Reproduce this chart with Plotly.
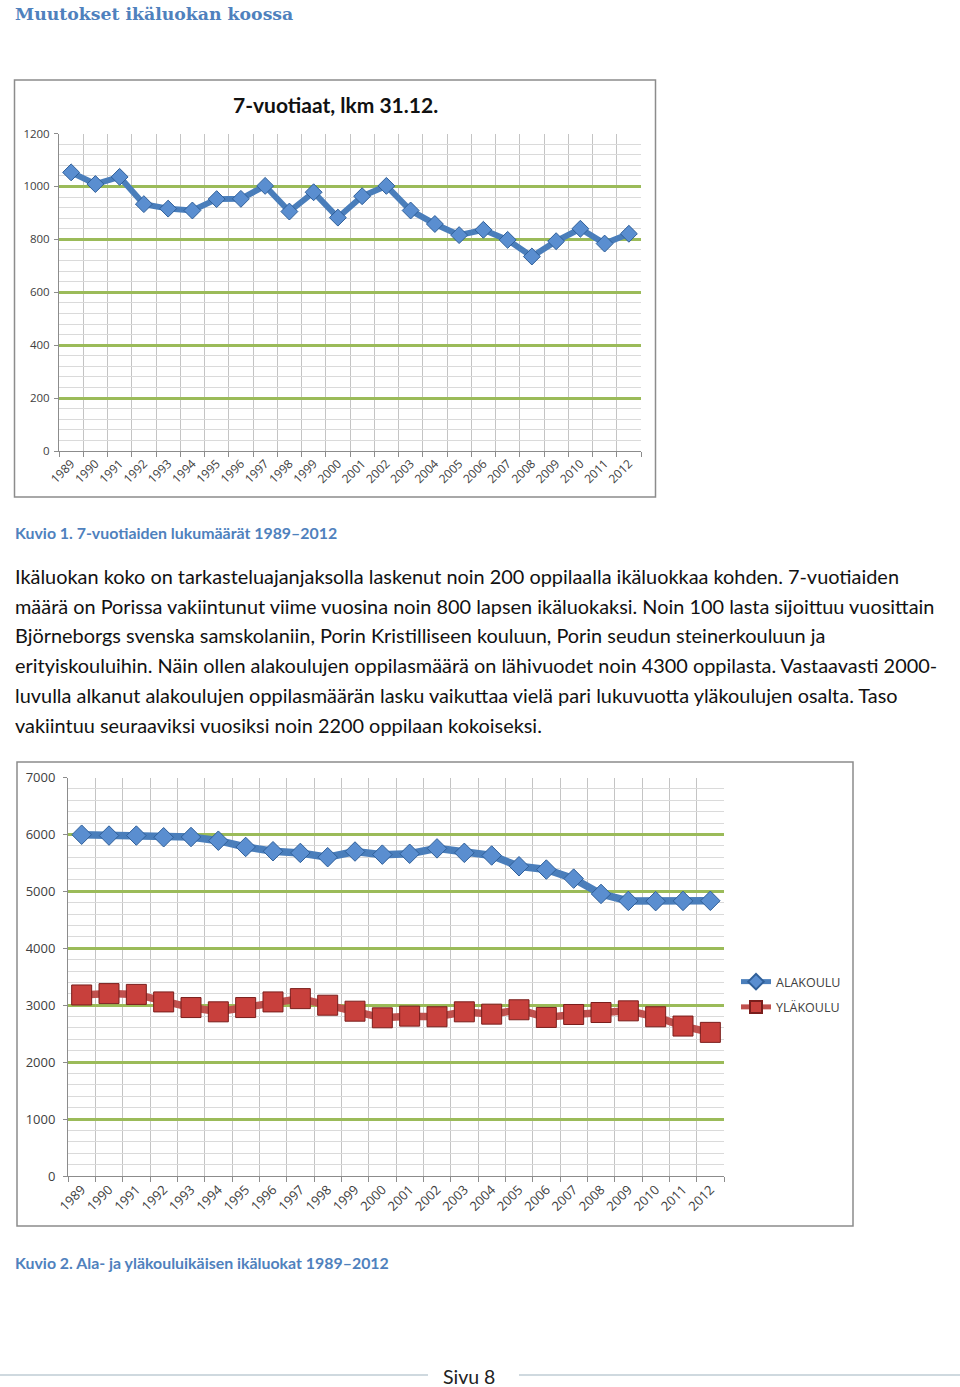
import plotly.graph_objects as go

W, H = 960, 1387

# ---------------- data ----------------
years = list(range(1989, 2013))
seven_year_olds = [1053, 1009, 1036, 933, 916, 909, 952, 953, 1002, 905, 978, 882,
                   963, 1002, 909, 858, 816, 836, 798, 735, 793, 840, 784, 821]
alakoulu = [5995, 5980, 5980, 5950, 5955, 5890, 5780, 5705, 5675, 5600, 5700, 5645,
            5660, 5755, 5677, 5630, 5441, 5383, 5224, 4955, 4832, 4828, 4832, 4834]
ylakoulu = [3180, 3204, 3190, 3058, 2959, 2884, 2959, 3058, 3116, 3000, 2895, 2779,
            2808, 2797, 2884, 2843, 2920, 2785, 2837, 2872, 2901, 2797, 2634, 2523]

chart1_title = "7-vuotiaat, lkm 31.12."
page_title = "Muutokset ikäluokan koossa"
caption1 = "Kuvio 1. 7-vuotiaiden lukumäärät 1989–2012"
caption2 = "Kuvio 2. Ala- ja yläkouluikäisen ikäluokat 1989–2012"
body_lines = [
    "Ikäluokan koko on tarkasteluajanjaksolla laskenut noin 200 oppilaalla ikäluokkaa kohden. 7-vuotiaiden",
    "määrä on Porissa vakiintunut viime vuosina noin 800 lapsen ikäluokaksi. Noin 100 lasta sijoittuu vuosittain",
    "Björneborgs svenska samskolaniin, Porin Kristilliseen kouluun, Porin seudun steinerkouluun ja",
    "erityiskouluihin. Näin ollen alakoulujen oppilasmäärä on lähivuodet noin 4300 oppilasta. Vastaavasti 2000-",
    "luvulla alkanut alakoulujen oppilasmäärän lasku vaikuttaa vielä pari lukuvuotta yläkoulujen osalta. Taso",
    "vakiintuu seuraaviksi vuosiksi noin 2200 oppilaan kokoiseksi.",
]
footer = "Sivu 8"

# ---------------- helpers ----------------
def px(x):
    return x / W

def py(y):
    return 1 - y / H

RED = "#C0504D"
GREEN = "#9BBB59"
TXT = "#404040"

fig = go.Figure()

fig.add_trace(go.Scatter(
    x=years, y=seven_year_olds, mode="lines+markers", xaxis="x", yaxis="y",
    line=dict(color="#4A7EBB", width=6),
    marker=dict(symbol="diamond", size=13, color="#5A8ED0", line=dict(color="#2F5F99", width=1)),
    showlegend=False, hoverinfo="x+y"))

fig.add_trace(go.Scatter(
    x=years, y=alakoulu, mode="lines+markers", xaxis="x2", yaxis="y2", name="ALAKOULU",
    legendgroup="a",
    line=dict(color="#4A7EBB", width=7.5),
    marker=dict(symbol="diamond", size=15, color="#5A8ED0", line=dict(color="#2F5F99", width=1))))

fig.add_trace(go.Scatter(
    x=years, y=ylakoulu, mode="lines+markers", xaxis="x2", yaxis="y2", name="YLÄKOULU",
    legendgroup="b",
    line=dict(color=RED, width=7.5),
    marker=dict(symbol="square", size=20, color="#C8403C", line=dict(color="#7A1E1C", width=1))))

def xaxis_cfg(domain, anchor, fsize):
    return dict(
        domain=domain, anchor=anchor, range=[years[0] - 0.5, years[-1] + 0.5],
        tickmode="array", tickvals=years, ticktext=[str(y) for y in years],
        tickangle=-45, tickfont=dict(family="Open Sans", size=fsize, color=TXT),
        showgrid=False, zeroline=False, showline=True, linecolor="#8C8C8C", linewidth=1,
        ticks="", automargin=False,
        minor=dict(tick0=years[0] - 0.5, dtick=1, showgrid=True, gridcolor="#C4C4C4",
                   gridwidth=1, ticks="outside", ticklen=5, tickcolor="#8C8C8C"),
        fixedrange=True)

def yaxis_cfg(domain, anchor, rng, dtick, mdtick, fsize, standoff):
    return dict(
        domain=domain, anchor=anchor, range=rng, dtick=dtick, tick0=0,
        tickfont=dict(family="Open Sans", size=fsize, color=TXT),
        showgrid=True, gridcolor=GREEN, gridwidth=3,
        zeroline=True, zerolinecolor="#8C8C8C", zerolinewidth=1,
        showline=True, linecolor="#8C8C8C", linewidth=1,
        ticks="outside", ticklen=4, tickcolor="#8C8C8C", automargin=False,
        ticklabelstandoff=standoff,
        minor=dict(dtick=mdtick, tick0=0, showgrid=True, gridcolor="#DADADA", gridwidth=1),
        fixedrange=True)

fig.update_layout(
    width=W, height=H, margin=dict(l=0, r=0, t=0, b=0, pad=0, autoexpand=False),
    paper_bgcolor="white", plot_bgcolor="white",
    xaxis=xaxis_cfg([px(59), px(641)], "y", 12),
    yaxis=yaxis_cfg([py(451), py(133.5)], "x", [0, 1200], 200, 40, 11.5, 2),
    xaxis2=xaxis_cfg([px(68), px(724)], "y2", 13),
    yaxis2=yaxis_cfg([py(1176), py(777.5)], "x2", [0, 7000], 1000, 200, 13, 5),
    legend=dict(x=px(736), y=py(967), xanchor="left", yanchor="top",
                font=dict(family="Open Sans", size=12.5, color=TXT),
                bgcolor="rgba(0,0,0,0)", tracegroupgap=6, itemsizing="constant"),
)

shapes = [
    dict(type="rect", xref="paper", yref="paper", x0=px(14.5), x1=px(655.5), y0=py(497), y1=py(80),
         line=dict(color="#8C8C8C", width=1.5), fillcolor="rgba(0,0,0,0)", layer="below"),
    dict(type="rect", xref="paper", yref="paper", x0=px(17), x1=px(853), y0=py(1226), y1=py(762),
         line=dict(color="#8C8C8C", width=1.5), fillcolor="rgba(0,0,0,0)", layer="below"),
    dict(type="line", xref="paper", yref="paper", x0=px(0), x1=px(428), y0=py(1375), y1=py(1375),
         line=dict(color="#9FB3BF", width=1)),
    dict(type="line", xref="paper", yref="paper", x0=px(519), x1=px(960), y0=py(1375), y1=py(1375),
         line=dict(color="#9FB3BF", width=1)),
]
fig.update_layout(shapes=shapes)

ann = []
ann.append(dict(text="<b>" + page_title + "</b>", x=px(13), y=py(14), xref="paper", yref="paper",
                xanchor="left", yanchor="middle", showarrow=False,
                font=dict(family="DejaVu Serif", size=17.3, color="#4F81BD")))
ann.append(dict(text="<b>" + chart1_title + "</b>", x=px(335), y=py(104), xref="paper", yref="paper",
                xanchor="center", yanchor="middle", showarrow=False,
                font=dict(family="Lato", size=21, color="#111111")))
ann.append(dict(text="<b>" + caption1 + "</b>", x=px(13), y=py(532), xref="paper", yref="paper",
                xanchor="left", yanchor="middle", showarrow=False,
                font=dict(family="Lato", size=15.9, color="#4F81BD")))
ann.append(dict(text="<b>" + caption2 + "</b>", x=px(13), y=py(1262), xref="paper", yref="paper",
                xanchor="left", yanchor="middle", showarrow=False,
                font=dict(family="Lato", size=15.9, color="#4F81BD")))
line_y = [576, 605.5, 635, 665, 695, 725]
for t, yy in zip(body_lines, line_y):
    ann.append(dict(text=t, x=px(13), y=py(yy), xref="paper", yref="paper",
                    xanchor="left", yanchor="middle", showarrow=False,
                    font=dict(family="Lato", size=19.9, color="#111111")))
ann.append(dict(text=footer, x=px(442), y=py(1376), xref="paper", yref="paper",
                xanchor="left", yanchor="middle", showarrow=False, borderpad=0,
                font=dict(family="Lato", size=19.5, color="#222222")))
fig.update_layout(annotations=ann)

fig.write_html("out.html", config=dict(displayModeBar=False))

# remove the default page margin so the figure sits at the window origin
with open("out.html", "r", encoding="utf-8") as f:
    html = f.read()
html = html.replace("<body>", '<body style="margin:0;padding:0;overflow:hidden">', 1)
with open("out.html", "w", encoding="utf-8") as f:
    f.write(html)
